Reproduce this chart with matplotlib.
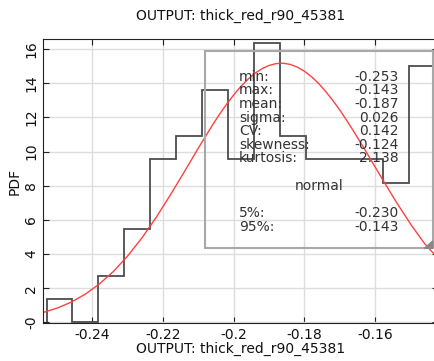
import matplotlib
matplotlib.use("Agg")
import matplotlib.pyplot as plt
import numpy as np
from matplotlib.patches import Rectangle, Polygon

# histogram (density)
bin_edges = [-0.2530 + i * 0.11 / 15 for i in range(16)]
pdf_heights = [1.36, 0.0, 2.72, 5.45, 9.54, 10.9, 13.6, 9.54, 16.35, 10.9,
               9.54, 9.54, 9.54, 8.18, 15.0]

# fitted normal curve
curve_x = [-0.254, -0.250, -0.246, -0.242, -0.238, -0.234, -0.230, -0.226,
           -0.222, -0.218, -0.214, -0.210, -0.206, -0.204, -0.202, -0.200,
           -0.198, -0.196, -0.194, -0.192, -0.190, -0.188, -0.186, -0.184,
           -0.182, -0.180, -0.178, -0.176, -0.174, -0.172, -0.170, -0.168,
           -0.166, -0.162, -0.158, -0.154, -0.150, -0.146, -0.142]
curve_y = [0.57, 0.83, 1.18, 1.65, 2.25, 2.99, 3.89, 4.94,
           6.13, 7.44, 8.81, 10.21, 11.56, 12.19, 12.78, 13.32,
           13.81, 14.23, 14.58, 14.85, 15.04, 15.15, 15.17, 15.10,
           14.94, 14.70, 14.38, 13.99, 13.52, 13.00, 12.43, 11.81,
           11.16, 9.80, 8.40, 7.04, 5.76, 4.61, 3.70]

stat_names = ["min:", "max:", "mean:", "sigma:", "CV:", "skewness:", "kurtosis:"]
stat_values = ["-0.253", "-0.143", "-0.187", "0.026", "0.142", "-0.124", "2.138"]
pct_names = ["5%:", "95%:"]
pct_values = ["-0.230", "-0.143"]

xticks = [-0.24, -0.22, -0.2, -0.18, -0.16]
xtick_labels = ["-0.24", "-0.22", "-0.2", "-0.18", "-0.16"]
yticks = [0, 2, 4, 6, 8, 10, 12, 14, 16]
ytick_labels = ["-0", "2", "4", "6", "8", "10", "12", "14", "16"]

plt.rcParams['font.family'] = ['DejaVu Sans']
plt.rcParams['font.size'] = 10

fig = plt.figure(figsize=(4.35, 3.61), dpi=100)
ax = fig.add_axes([0.0996, 0.1044, 0.9073, 0.7867])

ax.grid(True, color='#dddddd', lw=1)
ax.set_axisbelow(True)

ax.stairs(pdf_heights, bin_edges, color='#4d4d4d', lw=1.3, baseline=0)
ax.plot(curve_x, curve_y, color='#ff4040', lw=1)

ax.set_xlim(-0.2539, -0.1422)
ax.set_ylim(-0.06, 16.57)
ax.set_xticks(xticks)
ax.set_xticklabels(xtick_labels)
ax.set_yticks(yticks)
ax.set_yticklabels(ytick_labels, rotation=90, va='center')
ax.tick_params(direction='in', length=4, top=True, right=True, colors='#222222',
               labelcolor='#111111')
for s in ax.spines.values():
    s.set_color('#222222')

ax.set_title("OUTPUT: thick_red_r90_45381", fontsize=10, pad=14, color='#111111')
ax.set_xlabel("OUTPUT: thick_red_r90_45381", labelpad=0, color='#111111')
ax.set_ylabel("PDF", labelpad=2, color='#111111')

# stats box
ax.add_patch(Rectangle((0.4097, 0.264), 0.5769, 0.6955, transform=ax.transAxes,
                       fill=False, ec='#a8a8a8', lw=1.5, zorder=3))
ax.add_patch(Polygon([(0.9866, 0.264), (0.9866, 0.290), (0.9656, 0.264)],
                     closed=True, transform=ax.transAxes, color='#888888', zorder=4))

tc = '#333333'
for i, (n, v) in enumerate(zip(stat_names, stat_values)):
    y = 0.8683 - i * 0.0479
    ax.text(0.496, y, n, transform=ax.transAxes, ha='left', va='center', color=tc)
    ax.text(0.901, y, v, transform=ax.transAxes, ha='right', va='center', color=tc)
ax.text(0.6985, 0.4835, "normal", transform=ax.transAxes, ha='center', va='center', color=tc)
for i, (n, v) in enumerate(zip(pct_names, pct_values)):
    y = 0.3894 - i * 0.0493
    ax.text(0.496, y, n, transform=ax.transAxes, ha='left', va='center', color=tc)
    ax.text(0.901, y, v, transform=ax.transAxes, ha='right', va='center', color=tc)

fig.savefig("out.png", dpi=100)
